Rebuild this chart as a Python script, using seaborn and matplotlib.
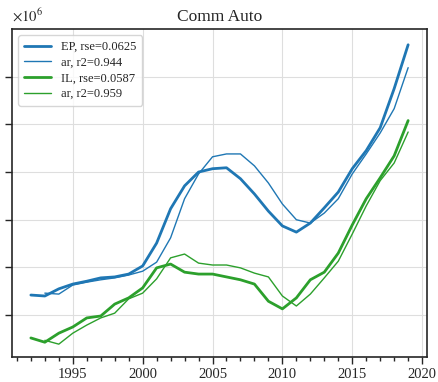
import numpy as np
import pandas as pd
import seaborn as sns
import matplotlib
matplotlib.use("Agg")
import matplotlib.pyplot as plt
import matplotlib.ticker as mtick

# data (units of 1e6)
years = list(range(1992, 2020))
ar_years = list(range(1993, 2020))

ep_vals = [1.42, 1.40, 1.55, 1.65, 1.71, 1.78, 1.80, 1.86, 2.03, 2.51,
           3.23, 3.71, 4.00, 4.07, 4.09, 3.86, 3.54, 3.18, 2.87, 2.74,
           2.93, 3.25, 3.58, 4.07, 4.45, 4.93, 5.75, 6.67]
ep_ar = [1.46, 1.44, 1.63, 1.69, 1.74, 1.78, 1.84, 1.92, 2.11, 2.62,
         3.44, 3.96, 4.32, 4.38, 4.38, 4.13, 3.77, 3.33, 3.00, 2.93,
         3.14, 3.44, 3.96, 4.38, 4.82, 5.33, 6.19]
il_vals = [0.52, 0.43, 0.62, 0.75, 0.94, 0.98, 1.23, 1.36, 1.57, 1.99,
           2.07, 1.90, 1.86, 1.86, 1.80, 1.74, 1.65, 1.29, 1.13, 1.36,
           1.74, 1.90, 2.30, 2.89, 3.44, 3.88, 4.34, 5.08]
il_ar = [0.47, 0.39, 0.62, 0.79, 0.94, 1.04, 1.34, 1.46, 1.76, 2.20,
         2.28, 2.09, 2.05, 2.05, 1.99, 1.88, 1.80, 1.40, 1.19, 1.44,
         1.78, 2.13, 2.70, 3.29, 3.82, 4.19, 4.84]

labels = ['EP, rse=0.0625', 'ar, r2=0.944', 'IL, rse=0.0587', 'ar, r2=0.959']
blue = '#1f77b4'
green = '#2ca02c'

sns.set_style('whitegrid', {'axes.edgecolor': '0.15', 'grid.color': '0.87'})
plt.rcParams['font.family'] = ['Liberation Serif', 'DejaVu Serif']
plt.rcParams['mathtext.fontset'] = 'stix'

fig = plt.figure(figsize=(4.38, 3.82), dpi=100)
ax = fig.add_axes([0.0274, 0.0654, 0.9475, 0.8586])

sns.lineplot(x=years, y=ep_vals, ax=ax, color=blue, linewidth=2.0, label=labels[0])
sns.lineplot(x=ar_years, y=ep_ar, ax=ax, color=blue, linewidth=1.0, label=labels[1])
sns.lineplot(x=years, y=il_vals, ax=ax, color=green, linewidth=2.0, label=labels[2])
sns.lineplot(x=ar_years, y=il_ar, ax=ax, color=green, linewidth=1.0, label=labels[3])

ax.set_xticks([1995, 2000, 2005, 2010, 2015, 2020])
ax.xaxis.set_minor_locator(mtick.MultipleLocator(1))
ax.set_yticks([1, 2, 3, 4, 5, 6])
ax.set_yticklabels([])
ax.set_xlim(1990.65, 2020.35)
ax.set_ylim(0.12, 7.0)

ax.tick_params(axis='both', which='major', direction='out', length=5, width=1,
               color='0.15', bottom=True, left=True, labelsize=10.5, pad=3)
ax.tick_params(axis='x', which='minor', direction='out', length=2.8, width=1,
               color='0.15', bottom=True)
for s in ax.spines.values():
    s.set_linewidth(1.2)

ax.set_title('Comm Auto', fontsize=12.5, pad=6)
ax.text(0.0, 1.015, r'$\times10^{6}$', transform=ax.transAxes, fontsize=10.5,
        ha='left', va='bottom')

leg = ax.legend(loc='upper left', fontsize=9, frameon=True, fancybox=True,
                borderpad=0.45, labelspacing=0.3, handlelength=2.2)
leg.get_frame().set_edgecolor('0.8')

fig.savefig('out.png', dpi=100)
